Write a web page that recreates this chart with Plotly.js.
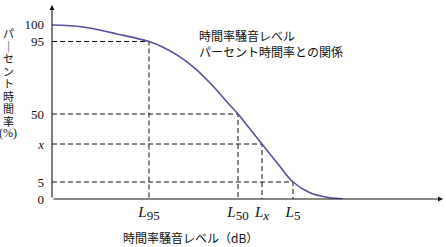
<!DOCTYPE html>
<html>
<head>
<meta charset="utf-8">
<script src="https://cdn.plot.ly/plotly-3.0.1.min.js"></script>
<style>html,body{margin:0;padding:0;background:#fff;}#chart{width:446px;height:247px;}</style>
</head>
<body>
<div id="chart"></div>
<script>
// Schematic curve (axis is not to scale): level (x) vs percent-time position (y)
var curveX = [0, 31, 65, 97, 110, 126, 143, 160, 176, 186, 198, 210, 226, 241, 258, 275, 291];
var curveY = [174, 172, 165, 157.5, 152.3, 143.3, 130.7, 114, 96, 85, 70, 55, 35, 17, 6.3, 1.7, 0];

// Percent-time tick labels and their positions on the schematic axis
var yTickText = ['100', '95', '50', '<i>x</i>', '5', '0'];
var yTickVals = [175, 157.5, 85, 55, 17, 0];

// Marked levels: L95, L50, Lx, L5 and the matching percent positions
var xSubs = ['95', '50', '<i>x</i>', '5'];
var xTickVals = [97, 186, 210, 241];
var levelY = [157.5, 85, 55, 17];

var titleX = '時間率騒音レベル（dB）';
var titleY = ['パ', '｜', 'セ', 'ン', 'ト', '時', '間', '率', '(%)'];
var note = ['時間率騒音レベル', 'パーセント時間率との関係'];

var jp = 'Noto Sans CJK JP';
var serif = 'Liberation Serif';

var xTickText = xSubs.map(function (s) {
  return '<i>L</i><sub><span style="font-size:13px">' + s + '</span></sub>';
});

var traces = [];
for (var i = 0; i < xTickVals.length; i++) {
  traces.push({
    x: [0, xTickVals[i], xTickVals[i]],
    y: [levelY[i], levelY[i], 0],
    mode: 'lines', type: 'scatter',
    line: {color: '#111', width: 1, dash: '5px,3px'},
    hoverinfo: 'skip', showlegend: false
  });
}
traces.push({
  x: curveX, y: curveY, mode: 'lines', type: 'scatter',
  line: {color: '#5b4d9f', width: 1.6, shape: 'spline', smoothing: 1},
  showlegend: false
});

var annotations = [
  {x: 0, y: 194, ax: 0, ay: 0, xref: 'x', yref: 'y', axref: 'x', ayref: 'y',
   text: '', showarrow: true, arrowhead: 2, arrowsize: 0.9, arrowwidth: 1.1, arrowcolor: '#111'},
  {x: 391, y: 0, ax: 0, ay: 0, xref: 'x', yref: 'y', axref: 'x', ayref: 'y',
   text: '', showarrow: true, arrowhead: 2, arrowsize: 0.9, arrowwidth: 1.1, arrowcolor: '#111'},
  {x: 145, y: 156, xref: 'x', yref: 'y', xanchor: 'left', yanchor: 'middle', align: 'left',
   text: note.join('<br>'), showarrow: false, font: {family: jp, size: 12, color: '#111'}},
  {x: 0.353, y: -0.196, xref: 'paper', yref: 'paper', xanchor: 'center', yanchor: 'middle',
   text: titleX, showarrow: false, font: {family: jp, size: 12, color: '#111'}}
];
// vertical (stacked) y-axis title, one character per row
titleY.forEach(function (ch, k) {
  var last = (k === titleY.length - 1);
  annotations.push({
    x: -0.1125, y: (199 - (33 + 12.5 * k)) / 194, xref: 'paper', yref: 'paper',
    xanchor: 'center', yanchor: 'middle', text: ch, showarrow: false,
    font: {family: last ? serif : jp, size: last ? 12 : 11, color: '#111'}
  });
});

var layout = {
  width: 446, height: 247,
  margin: {l: 52, r: 3, t: 5, b: 48},
  paper_bgcolor: '#fff', plot_bgcolor: '#fff',
  showlegend: false,
  xaxis: {
    range: [0, 391], showgrid: false, zeroline: false, showline: false,
    ticks: '', tickvals: xTickVals, ticktext: xTickText,
    tickfont: {family: serif, size: 15, color: '#111'},
    ticklabelstandoff: 2, fixedrange: true
  },
  yaxis: {
    range: [0, 194], showgrid: false, zeroline: false, showline: false,
    ticks: '', tickvals: yTickVals, ticktext: yTickText,
    tickfont: {family: serif, size: 13, color: '#111'},
    ticklabelstandoff: 7, fixedrange: true
  },
  annotations: annotations
};

Plotly.newPlot('chart', traces, layout, {displayModeBar: false, staticPlot: true});
</script>
</body>
</html>
